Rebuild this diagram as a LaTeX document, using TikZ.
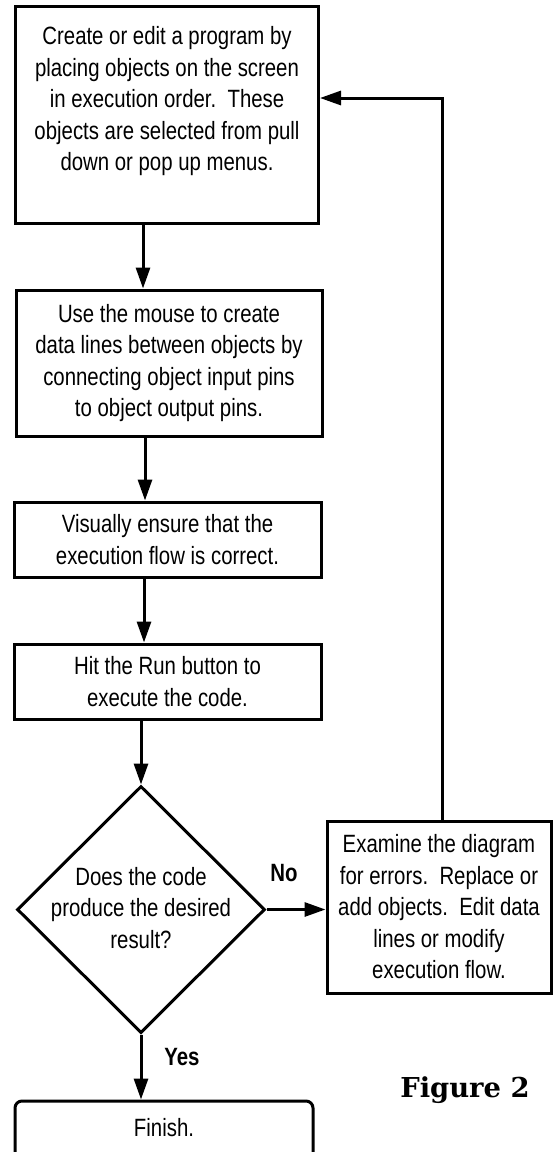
\documentclass[tikz,border=0pt]{standalone}
\usepackage{fontspec}
\setsansfont{Liberation Sans}[FakeStretch=0.815]
\newfontfamily\captionface{DejaVu Serif}
\usetikzlibrary{shapes.geometric,arrows.meta}

\begin{document}
\begin{tikzpicture}[x=0.5pt,y=-0.5pt,
  every node/.style={font=\sffamily\fontsize{12.5pt}{15.75pt}\selectfont},
  stepbox/.style={draw, line width=1.5pt, align=center, inner sep=0pt},
  decision/.style={draw, diamond, line width=1.5pt, inner sep=0pt, aspect=1},
  endbox/.style={draw, rectangle, rounded corners=3.5pt, line width=1.5pt, inner sep=0pt},
  branch/.style={font=\sffamily\bfseries\fontsize{12.5pt}{15.75pt}\selectfont},
  flow/.style={line width=1.5pt, -{Triangle[length=10.5pt,width=7pt]}},
  ]
\useasboundingbox (0,0) rectangle (553,1152);
\clip (0,0) rectangle (553,1152);

% process steps
\node[stepbox, minimum width=151.5pt, minimum height=108.5pt] (create) at (167,114.5)
  {Create or edit a program by\\ placing objects on the screen\\ in execution order.\ \ These\\
   objects are selected from pull\\ down or pop up menus.\\ ~};
\node[stepbox, minimum width=153pt, minimum height=73pt] (wire) at (169,363)
  {Use the mouse to create\\ data lines between objects by\\ connecting object input pins\\ to object output pins.};
\node[stepbox, minimum width=153.5pt, minimum height=37.5pt] (check) at (167.5,539.5)
  {Visually ensure that the\\ execution flow is correct.};
\node[stepbox, minimum width=153.5pt, minimum height=37.5pt] (run) at (167.5,681.5)
  {Hit the Run button to\\ execute the code.};

% decision
\node[decision, minimum width=124pt, minimum height=123.5pt] (test) at (141,909.5) {};
\node[align=center] (testtext) at (141,908) {Does the code\\ produce the desired\\ result?};

% correction step
\node[stepbox, minimum width=112pt, minimum height=86pt] (fix) at (439,907)
  {Examine the diagram\\ for errors.\ \ Replace or\\ add objects.\ \ Edit data\\ lines or modify\\ execution flow.};

% terminal
\node[endbox, minimum width=149pt, minimum height=35pt] (finish) at (164,1136) {};
\node (finishtext) at (164,1128) {Finish.};

% branch labels and caption
\node[branch] (nolabel) at (284,873) {No};
\node[branch] (yeslabel) at (182,1057) {Yes};
\node[font=\captionface\bfseries\fontsize{13.7pt}{16pt}\selectfont] (caption) at (465,1090) {Figure 2};

% connectors
\draw[flow] ([xshift=-12pt]create.south) -- ([xshift=-12pt]create.south |- wire.north);
\draw[flow] ([xshift=-12pt]wire.south) -- ([xshift=-12pt]wire.south |- check.north);
\draw[flow] ([xshift=-11.75pt]check.south) -- ([xshift=-11.75pt]check.south |- run.north);
\draw[flow] (run.south -| test.north) -- (test.north);
\draw[flow] (test.east) -- (test.east -| fix.west);
\draw[flow] (test.south) -- (test.south |- finish.north);
\draw[flow] ([xshift=1.5pt]fix.north) |- ([yshift=8.25pt]create.east);
\end{tikzpicture}
\end{document}
